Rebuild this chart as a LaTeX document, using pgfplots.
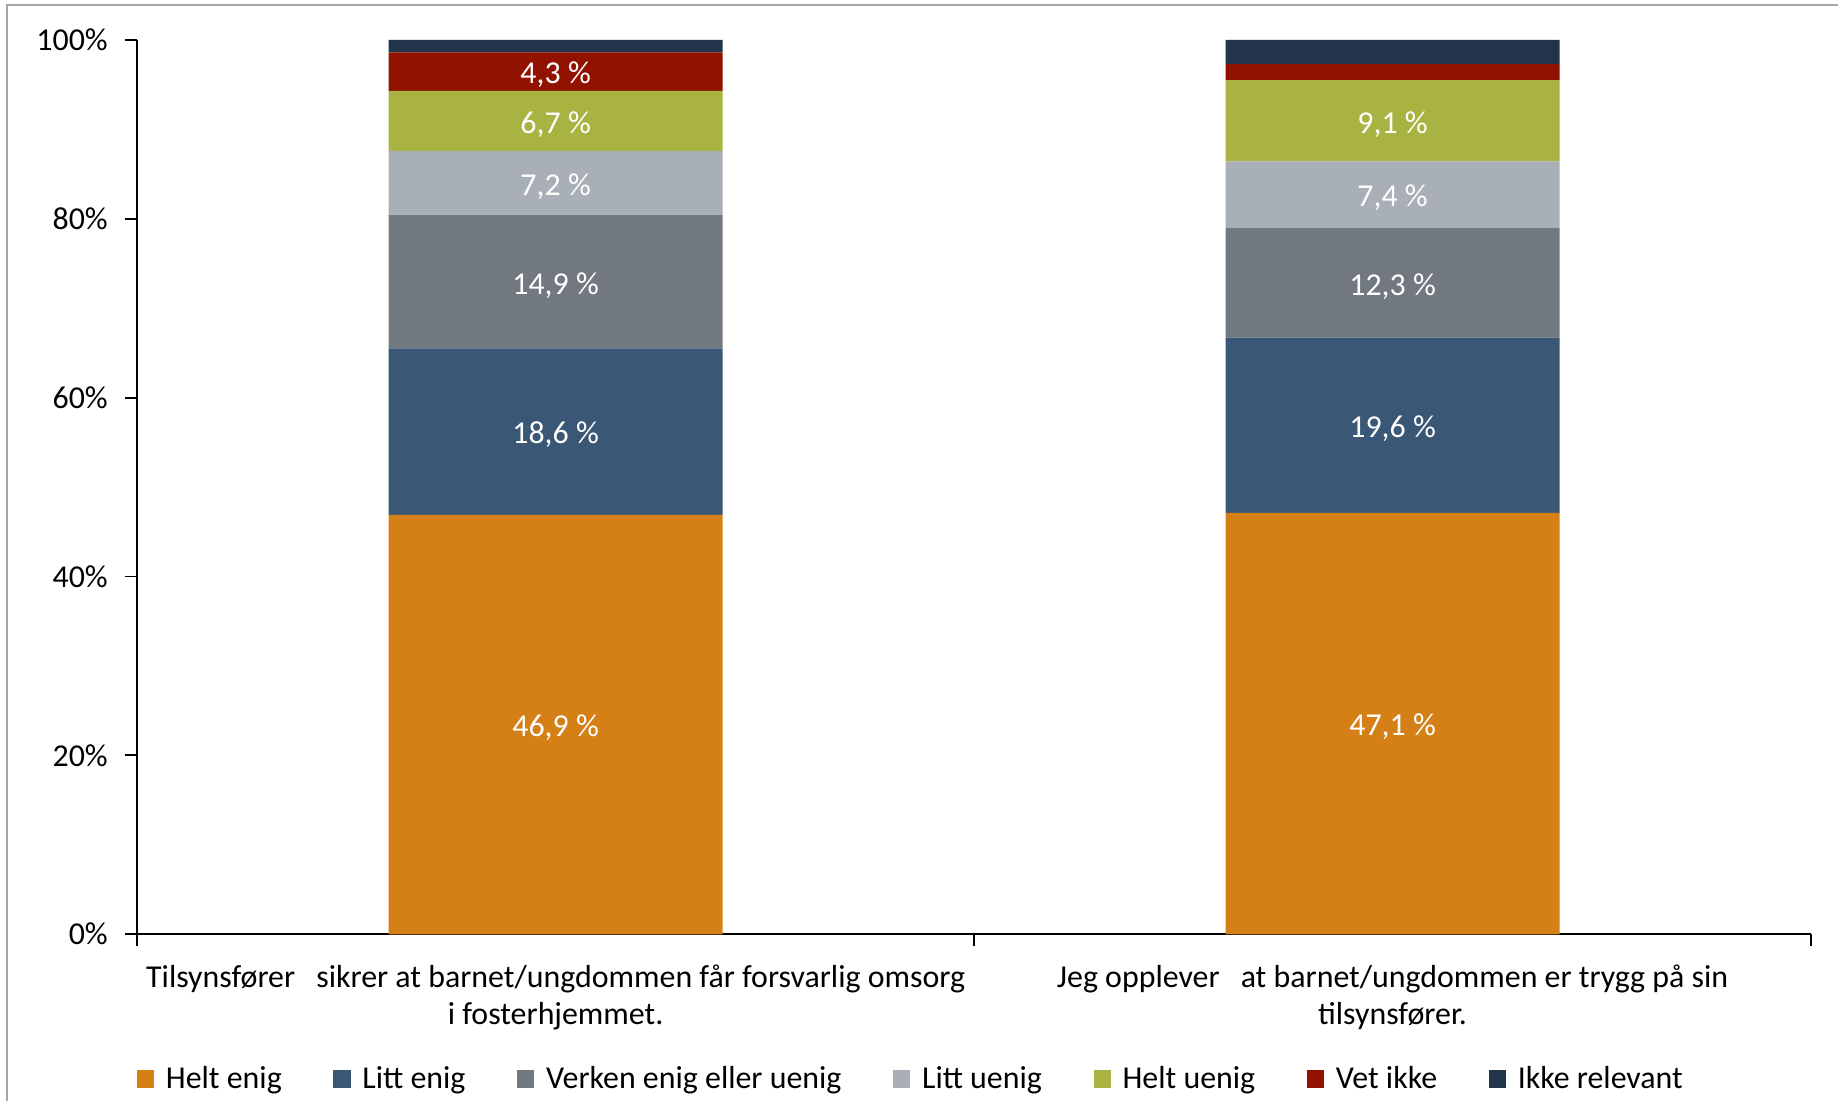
\documentclass[border=0pt]{standalone}
\usepackage{fontspec}
\setmainfont{Carlito}
\usepackage{pgfplots}
\pgfplotsset{compat=1.18}
\definecolor{cHE}{HTML}{D57F17}
\definecolor{cLE}{HTML}{3A5775}
\definecolor{cVE}{HTML}{717880}
\definecolor{cLU}{HTML}{A9AFB6}
\definecolor{cHU}{HTML}{A8B342}
\definecolor{cVI}{HTML}{921200}
\definecolor{cIR}{HTML}{223449}
\begin{document}
\begin{tikzpicture}[font=\fontsize{13.6}{16}\selectfont]
\path[use as bounding box] (-58.5pt,-71pt) rectangle (725.5pt,398.5pt);
\draw[gray!70, line width=0.8pt] (-55.5pt,-71pt) -- (-55.5pt,396.5pt) -- (725.5pt,396.5pt);
\begin{axis}[
  at={(0,0)}, anchor=south west, scale only axis,
  width=714pt, height=381.5pt,
  xmin=-0.5, xmax=1.5, ymin=0, ymax=100,
  enlargelimits=false,
  ybar stacked, bar width=142.5pt,
  axis lines*=left,
  axis line style={black, line width=0.8pt},
  /pgf/number format/assume math mode=true,
  ytick={0,20,40,60,80,100},
  yticklabel={\pgfmathprintnumber{\tick}\%},
  yticklabel style={xshift=-4pt},
  xtick={0,1},
  xticklabels={{Tilsynsfører\hspace{9pt}sikrer at barnet/ungdommen får forsvarlig omsorg\\i fosterhjemmet.},{Jeg opplever\hspace{9pt}at barnet/ungdommen er trygg på sin\\tilsynsfører.}},
  xticklabel style={align=center, yshift=-4.5pt},
  major x tick style={draw=none},
  minor xtick={-0.5,0.5,1.5},
  tick align=outside,
  major tick length=5pt, minor tick length=5pt,
  tick style={black, line width=0.8pt},
  legend style={at={(rel axis cs:0.463,-0.162)}, anchor=center, draw=none,
    legend columns=-1, font=\fontsize{13.6}{16}\selectfont,
    /tikz/every odd column/.append style={column sep=3pt},
    /tikz/every even column/.append style={column sep=20pt}},
  legend image code/.code={\fill[#1] (0pt,-3.7pt) rectangle (7.4pt,3.7pt);},
]
\addplot[fill=cHE, draw=none] coordinates {(0,46.9) (1,47.1)};
\addplot[fill=cLE, draw=none] coordinates {(0,18.6) (1,19.6)};
\addplot[fill=cVE, draw=none] coordinates {(0,14.9) (1,12.3)};
\addplot[fill=cLU, draw=none] coordinates {(0,7.2) (1,7.4)};
\addplot[fill=cHU, draw=none] coordinates {(0,6.7) (1,9.1)};
\addplot[fill=cVI, draw=none] coordinates {(0,4.3) (1,1.8)};
\addplot[fill=cIR, draw=none] coordinates {(0,1.4) (1,2.7)};
\legend{Helt enig, Litt enig, Verken enig eller uenig, Litt uenig, Helt uenig, Vet ikke, Ikke relevant}
\end{axis}
\begin{axis}[
  at={(0,0)}, anchor=south west, scale only axis,
  width=714pt, height=381.5pt,
  xmin=-0.5, xmax=1.5, ymin=0, ymax=100,
  enlargelimits=false, hide axis,
  /pgf/number format/assume math mode=true,
]
\addplot[draw=none, mark=none, point meta=explicit,
  nodes near coords={\pgfmathprintnumber[fixed, fixed zerofill, precision=1, use comma, assume math mode=true]{\pgfplotspointmeta}~\%},
  nodes near coords align=center,
  every node near coord/.append style={white, font=\fontsize{13.6}{16}\selectfont, anchor=center, yshift=-1.5pt}]
  table[meta=v] {
x y v
0 23.45 46.9
0 56.2 18.6
0 72.95 14.9
0 84.0 7.2
0 90.95 6.7
0 96.45 4.3
1 23.55 47.1
1 56.9 19.6
1 72.85 12.3
1 82.7 7.4
1 90.95 9.1
};
\end{axis}
\end{tikzpicture}
\end{document}
